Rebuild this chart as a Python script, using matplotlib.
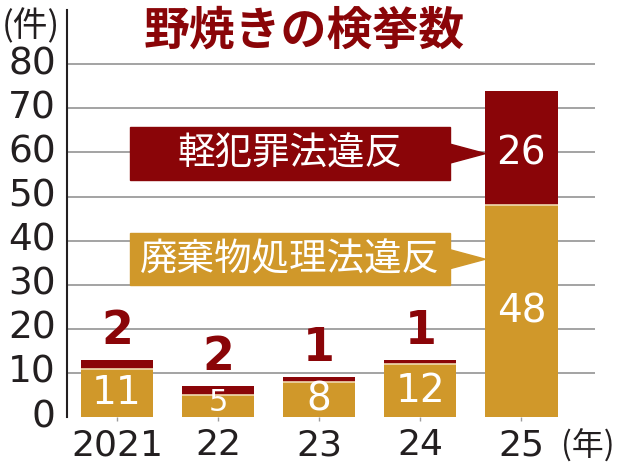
import matplotlib
matplotlib.use("Agg")
import matplotlib.pyplot as plt
import numpy as np
from matplotlib.patches import Polygon, Rectangle

plt.rcParams['font.family'] = ['DejaVu Sans', 'Noto Sans CJK JP']

# 野焼きの検挙数
years = ['2021', '22', '23', '24', '25']
waste = [11, 5, 8, 12, 48]       # 廃棄物処理法違反
minor = [2, 2, 1, 1, 26]         # 軽犯罪法違反
series_names = ['軽犯罪法違反', '廃棄物処理法違反']

RED = '#8a0508'
GOLD = '#d0982a'
INK = '#231f20'
GRID = '#9c9c9c'

fig = plt.figure(figsize=(6.2, 4.66), dpi=100)
ax = fig.add_axes([0.108, 0.105, 0.852, 0.8734])

x = np.arange(len(years))
w = 0.715
waste = np.array(waste)
minor = np.array(minor)

ax.bar(x, waste, width=w, color=GOLD, zorder=3)
ax.bar(x, minor, width=w, bottom=waste, color=RED, zorder=3)
ax.hlines(waste, x - w / 2, x + w / 2, color='#f0d9b0', lw=1.2, zorder=4)

ax.set_xlim(-0.495, 4.73)
ax.set_ylim(0, 92.3)
ax.set_yticks(np.arange(0, 81, 10))
ax.set_yticklabels([str(v) for v in range(0, 81, 10)], fontsize=27, color=INK)
ax.set_xticks(x)
ax.set_xticklabels(years, fontsize=26, color=INK)
ax.tick_params(axis='y', length=0, pad=8)
ax.tick_params(axis='x', length=3, width=1, color=GRID, pad=5)
for t in ax.get_yticklabels():
    t.set_verticalalignment('center')

for s in ['top', 'right', 'bottom']:
    ax.spines[s].set_visible(False)
ax.spines['left'].set_color(INK)
ax.spines['left'].set_linewidth(1.5)

for v in range(10, 81, 10):
    ax.axhline(v, color=GRID, lw=1.3, zorder=1)

# value labels
for i in range(len(years)):
    g = waste[i]
    r = minor[i]
    if g > 6:
        ax.text(x[i], g / 2, str(g), ha='center', va='center',
                color='white', fontsize=28, zorder=8)
    else:
        ax.text(x[i], 0.1, str(g), ha='center', va='bottom',
                color='white', fontsize=22, zorder=8)
    if r > 5:
        ax.text(x[i], g + r / 2 - 1.2, str(r), ha='center', va='center',
                color='white', fontsize=28, zorder=8)
    else:
        ax.text(x[i], g + r + 1.4, str(r), ha='center', va='bottom',
                color=RED, fontsize=33, fontweight='bold', zorder=8)

# legend boxes with arrows
boxes = [(53.7, 65.8, RED), (29.9, 41.7, GOLD)]
bx0, bx1, tip = 0.129, 3.297, 3.644
for (y0, y1, c), name in zip(boxes, series_names):
    ax.add_patch(Rectangle((bx0, y0), bx1 - bx0, y1 - y0, color=c, zorder=6))
    ym = (y0 + y1) / 2
    ax.add_patch(Polygon([[bx1 - 0.01, ym + 2.2], [bx1 - 0.01, ym - 2.2], [tip, ym]],
                         closed=True, color=c, zorder=6))
    ax.text((bx0 + bx1) / 2, ym, name, ha='center', va='center', color='white',
            fontsize=27, family=['Noto Sans CJK JP'], zorder=7)

fig.text(0.232, 0.933, '野焼きの検挙数', fontsize=33, color=RED, family=['Noto Sans CJK JP'],
         fontweight='bold', va='center', ha='left')
fig.text(0.003, 0.943, '(件)', fontsize=25, color=INK, family=['Noto Sans CJK JP'],
         va='center', ha='left')
fig.text(0.905, 0.043, '(年)', fontsize=23, color=INK, family=['Noto Sans CJK JP'],
         va='center', ha='left')

fig.savefig('out.png', dpi=100)
